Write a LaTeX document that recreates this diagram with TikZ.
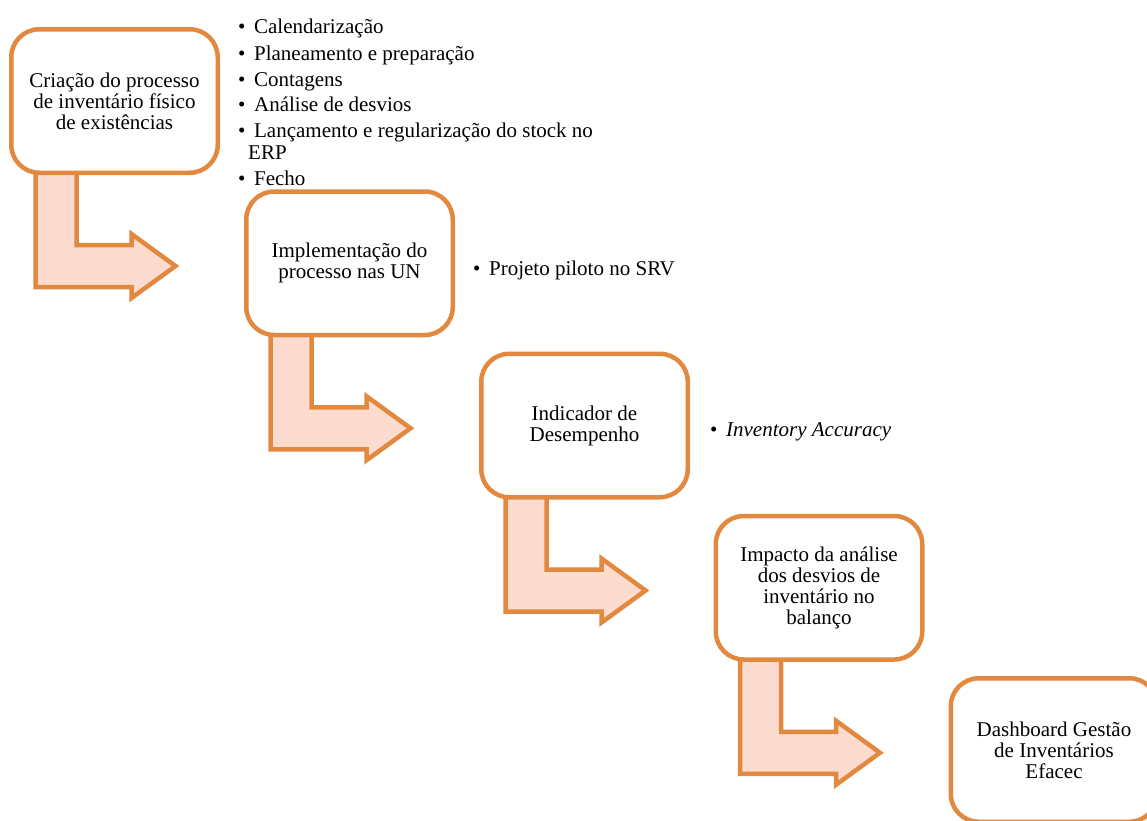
\documentclass[tikz,border=0pt]{standalone}
\usepackage{fontspec}
\setmainfont{Liberation Serif}
\definecolor{orangeline}{RGB}{226,136,63}
\definecolor{pinkfill}{RGB}{252,220,207}
\tikzset{
  stepbox/.style={draw=orangeline, fill=white, line width=4.5pt, rounded corners=28pt,
    minimum width=206.5pt, minimum height=143.5pt, align=center, inner sep=4pt,
    font=\fontsize{21}{21}\selectfont},
  bulletitem/.style={anchor=base west, inner sep=0pt, font=\fontsize{21}{23}\selectfont},
  bentarrow/.style={draw=orangeline, fill=pinkfill, line width=4.5pt, line join=miter},
  bent/.pic={\path[bentarrow] (-79,60) -- (-79,186) -- (17,186) -- (17,197) -- (61,165)
      -- (17,133) -- (17,144) -- (-38,144) -- (-38,60) -- cycle;}
}
\newcommand{\bul}{\textbullet\hspace{8.6pt}}
\begin{document}
\begin{tikzpicture}[x=1pt,y=-1pt]
\useasboundingbox (0,0) rectangle (1147,820);
\clip (0,0) rectangle (1147,820);
\coordinate (c1) at (114.5,101);
\coordinate (c2) at (349.5,263.25);
\coordinate (c3) at (584.5,425.5);
\coordinate (c4) at (819,587.75);
\coordinate (c5) at (1054,750);
\pic (a1) at (c1) {bent};
\pic (a2) at (c2) {bent};
\pic (a3) at (c3) {bent};
\pic (a4) at (c4) {bent};
\node[stepbox] (b1) at (c1) {Criação do processo\\de inventário físico\\de existências};
\node[stepbox] (b2) at (c2) {Implementação do\\processo nas UN};
\node[stepbox] (b3) at (c3) {Indicador de\\Desempenho};
\node[stepbox] (b4) at (c4) {Impacto da análise\\dos desvios de\\inventário no\\balanço};
\node[stepbox] (b5) at (c5) {Dashboard Gestão\\de Inventários\\Efacec};
% list 1
\node[bulletitem] (l1) at (238,33) {\bul Calendarização};
\node[bulletitem] (l2) at (238,60) {\bul Planeamento e preparação};
\node[bulletitem] (l3) at (238,86) {\bul Contagens};
\node[bulletitem] (l4) at (238,111) {\bul Análise de desvios};
\node[bulletitem] (l5) at (238,137) {\bul Lançamento e regularização do stock no};
\node[bulletitem] (l6) at (248,159) {ERP};
\node[bulletitem] (l7) at (238,185) {\bul Fecho};
% list 2
\node[bulletitem] (m1) at (473,275) {\bul Projeto piloto no SRV};
% list 3
\node[bulletitem] (n1) at (710,436) {\bul\textit{Inventory Accuracy}};
\end{tikzpicture}
\end{document}
